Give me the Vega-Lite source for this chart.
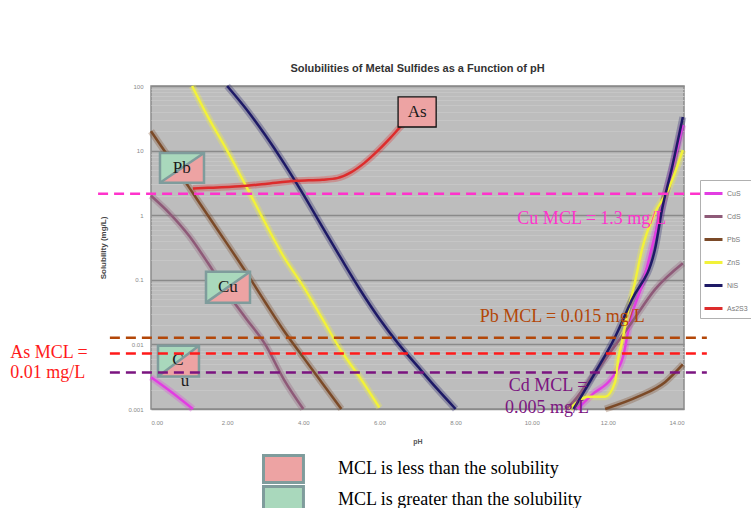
{
  "$schema": "https://vega.github.io/schema/vega-lite/v6.json",
  "width": 533,
  "height": 323,
  "autosize": {"type": "none"},
  "padding": {"left": 151, "top": 86, "right": 67, "bottom": 99},
  "background": "white",
  "config": {
    "view": {"fill": "#bdbdbd", "stroke": "#8a8a8a", "strokeWidth": 1.5},
    "font": "Liberation Sans"
  },
  "title": {
    "text": "Solubilities of Metal Sulfides as a Function of pH",
    "fontSize": 11, "fontWeight": "bold", "color": "#333", "offset": -2,
    "anchor": "middle", "font": "Liberation Sans"
  },
  "datasets": {
    "curves": [
      {"compound": "CuS", "branch": "a", "pH": 0, "s": 0.0031},
      {"compound": "CuS", "branch": "a", "pH": 0.5, "s": 0.0019},
      {"compound": "CuS", "branch": "a", "pH": 1.1, "s": 0.001},
      {"compound": "CuS", "branch": "b", "pH": 11.2, "s": 0.001},
      {"compound": "CuS", "branch": "b", "pH": 11.6, "s": 0.0017},
      {"compound": "CuS", "branch": "b", "pH": 12.1, "s": 0.003},
      {"compound": "CuS", "branch": "b", "pH": 12.4, "s": 0.0065},
      {"compound": "CuS", "branch": "b", "pH": 12.6, "s": 0.025},
      {"compound": "CuS", "branch": "b", "pH": 12.92, "s": 0.09},
      {"compound": "CuS", "branch": "b", "pH": 13.16, "s": 0.32},
      {"compound": "CuS", "branch": "b", "pH": 13.42, "s": 1.3},
      {"compound": "CuS", "branch": "b", "pH": 13.69, "s": 5.2},
      {"compound": "CuS", "branch": "b", "pH": 13.97, "s": 25},
      {"compound": "CdS", "branch": "a", "pH": 0, "s": 2.0},
      {"compound": "CdS", "branch": "a", "pH": 0.5, "s": 1.05},
      {"compound": "CdS", "branch": "a", "pH": 1.0, "s": 0.48},
      {"compound": "CdS", "branch": "a", "pH": 1.5, "s": 0.18},
      {"compound": "CdS", "branch": "a", "pH": 2.0, "s": 0.063},
      {"compound": "CdS", "branch": "a", "pH": 2.5, "s": 0.025},
      {"compound": "CdS", "branch": "a", "pH": 3.0, "s": 0.01},
      {"compound": "CdS", "branch": "a", "pH": 3.5, "s": 0.0028},
      {"compound": "CdS", "branch": "a", "pH": 4.0, "s": 0.001},
      {"compound": "CdS", "branch": "b", "pH": 10.9, "s": 0.001},
      {"compound": "CdS", "branch": "b", "pH": 11.14, "s": 0.0014},
      {"compound": "CdS", "branch": "b", "pH": 11.48, "s": 0.0026},
      {"compound": "CdS", "branch": "b", "pH": 11.93, "s": 0.0059},
      {"compound": "CdS", "branch": "b", "pH": 12.63, "s": 0.022},
      {"compound": "CdS", "branch": "b", "pH": 13.24, "s": 0.071},
      {"compound": "CdS", "branch": "b", "pH": 13.97, "s": 0.18},
      {"compound": "PbS", "branch": "a", "pH": 0, "s": 20},
      {"compound": "PbS", "branch": "a", "pH": 0.5, "s": 7.4},
      {"compound": "PbS", "branch": "a", "pH": 1.0, "s": 2.7},
      {"compound": "PbS", "branch": "a", "pH": 1.5, "s": 0.98},
      {"compound": "PbS", "branch": "a", "pH": 2.0, "s": 0.36},
      {"compound": "PbS", "branch": "a", "pH": 2.5, "s": 0.13},
      {"compound": "PbS", "branch": "a", "pH": 3.0, "s": 0.045},
      {"compound": "PbS", "branch": "a", "pH": 3.5, "s": 0.016},
      {"compound": "PbS", "branch": "a", "pH": 4.0, "s": 0.0063},
      {"compound": "PbS", "branch": "a", "pH": 4.5, "s": 0.0025},
      {"compound": "PbS", "branch": "a", "pH": 5.0, "s": 0.001},
      {"compound": "PbS", "branch": "b", "pH": 11.93, "s": 0.001},
      {"compound": "PbS", "branch": "b", "pH": 12.79, "s": 0.00155},
      {"compound": "PbS", "branch": "b", "pH": 13.5, "s": 0.0026},
      {"compound": "PbS", "branch": "b", "pH": 13.97, "s": 0.0049},
      {"compound": "ZnS", "branch": "a", "pH": 1.08, "s": 100},
      {"compound": "ZnS", "branch": "a", "pH": 1.5, "s": 33},
      {"compound": "ZnS", "branch": "a", "pH": 2.0, "s": 10},
      {"compound": "ZnS", "branch": "a", "pH": 2.5, "s": 2.8},
      {"compound": "ZnS", "branch": "a", "pH": 3.0, "s": 0.76},
      {"compound": "ZnS", "branch": "a", "pH": 3.5, "s": 0.22},
      {"compound": "ZnS", "branch": "a", "pH": 4.0, "s": 0.079},
      {"compound": "ZnS", "branch": "a", "pH": 4.5, "s": 0.025},
      {"compound": "ZnS", "branch": "a", "pH": 5.0, "s": 0.0079},
      {"compound": "ZnS", "branch": "a", "pH": 5.5, "s": 0.003},
      {"compound": "ZnS", "branch": "a", "pH": 6.0, "s": 0.00105},
      {"compound": "ZnS", "branch": "b", "pH": 11.0, "s": 0.001},
      {"compound": "ZnS", "branch": "b", "pH": 11.48, "s": 0.00155},
      {"compound": "ZnS", "branch": "b", "pH": 11.93, "s": 0.00155},
      {"compound": "ZnS", "branch": "b", "pH": 12.19, "s": 0.0026},
      {"compound": "ZnS", "branch": "b", "pH": 12.27, "s": 0.0059},
      {"compound": "ZnS", "branch": "b", "pH": 12.37, "s": 0.0107},
      {"compound": "ZnS", "branch": "b", "pH": 12.5, "s": 0.027},
      {"compound": "ZnS", "branch": "b", "pH": 12.71, "s": 0.091},
      {"compound": "ZnS", "branch": "b", "pH": 12.9, "s": 0.3},
      {"compound": "ZnS", "branch": "b", "pH": 13.24, "s": 1.1},
      {"compound": "ZnS", "branch": "b", "pH": 13.58, "s": 2.45},
      {"compound": "ZnS", "branch": "b", "pH": 13.97, "s": 10.2},
      {"compound": "NiS", "branch": "a", "pH": 2.0, "s": 100},
      {"compound": "NiS", "branch": "a", "pH": 2.5, "s": 44},
      {"compound": "NiS", "branch": "a", "pH": 3.0, "s": 17.4},
      {"compound": "NiS", "branch": "a", "pH": 3.5, "s": 6.3},
      {"compound": "NiS", "branch": "a", "pH": 4.0, "s": 2.1},
      {"compound": "NiS", "branch": "a", "pH": 4.5, "s": 0.66},
      {"compound": "NiS", "branch": "a", "pH": 5.0, "s": 0.21},
      {"compound": "NiS", "branch": "a", "pH": 5.5, "s": 0.069},
      {"compound": "NiS", "branch": "a", "pH": 6.0, "s": 0.025},
      {"compound": "NiS", "branch": "a", "pH": 6.5, "s": 0.0102},
      {"compound": "NiS", "branch": "a", "pH": 7.0, "s": 0.0046},
      {"compound": "NiS", "branch": "a", "pH": 7.5, "s": 0.0021},
      {"compound": "NiS", "branch": "a", "pH": 8.0, "s": 0.001},
      {"compound": "NiS", "branch": "b", "pH": 11.1, "s": 0.001},
      {"compound": "NiS", "branch": "b", "pH": 11.66, "s": 0.0036},
      {"compound": "NiS", "branch": "b", "pH": 12.19, "s": 0.013},
      {"compound": "NiS", "branch": "b", "pH": 12.63, "s": 0.049},
      {"compound": "NiS", "branch": "b", "pH": 13.24, "s": 0.3},
      {"compound": "NiS", "branch": "b", "pH": 13.42, "s": 1.2},
      {"compound": "NiS", "branch": "b", "pH": 13.69, "s": 5.6},
      {"compound": "NiS", "branch": "b", "pH": 13.97, "s": 33},
      {"compound": "As2S3", "branch": "a", "pH": 1.1, "s": 2.6},
      {"compound": "As2S3", "branch": "a", "pH": 1.5, "s": 2.65},
      {"compound": "As2S3", "branch": "a", "pH": 2.34, "s": 2.8},
      {"compound": "As2S3", "branch": "a", "pH": 3.0, "s": 3.05},
      {"compound": "As2S3", "branch": "a", "pH": 3.83, "s": 3.4},
      {"compound": "As2S3", "branch": "a", "pH": 4.5, "s": 3.55},
      {"compound": "As2S3", "branch": "a", "pH": 4.89, "s": 3.75},
      {"compound": "As2S3", "branch": "a", "pH": 5.25, "s": 4.6},
      {"compound": "As2S3", "branch": "a", "pH": 5.6, "s": 6.4},
      {"compound": "As2S3", "branch": "a", "pH": 6.0, "s": 10.5},
      {"compound": "As2S3", "branch": "a", "pH": 6.3, "s": 16},
      {"compound": "As2S3", "branch": "a", "pH": 6.6, "s": 25},
      {"compound": "As2S3", "branch": "a", "pH": 6.88, "s": 35}
    ],
    "mcl": [
      {"metal": "Cu", "pH": -1.39, "pH2": 14.76, "s": 2.14},
      {"metal": "Pb", "pH": -1.08, "pH2": 14.6, "s": 0.0127},
      {"metal": "As", "pH": -1.08, "pH2": 14.6, "s": 0.0072},
      {"metal": "Cd", "pH": -1.08, "pH2": 14.6, "s": 0.00366}
    ],
    "notes": [
      {"metal": "Cu", "pH": 11.58, "s": 0.879, "t": "Cu MCL = 1.3 mg/L"},
      {"metal": "Pb", "pH": 10.8, "s": 0.0269, "t": "Pb MCL = 0.015 mg/L"},
      {"metal": "Cd", "pH": 10.43, "s": 0.00223, "t": "Cd MCL ="},
      {"metal": "Cd", "pH": 10.4, "s": 0.00105, "t": "0.005 mg/L"},
      {"metal": "As", "pH": -3.7, "s": 0.00746, "t": "As MCL ="},
      {"metal": "As", "pH": -3.7, "s": 0.00366, "t": "0.01 mg/L"}
    ],
    "boxes": [
      {"box": "As", "split": false, "status": "MCL is less than the solubility", "pH": 6.49, "pH2": 7.49, "s": 67.8, "s2": 23.2},
      {"box": "Pb", "split": true, "status": "MCL is less than the solubility", "pH": 0.236, "pH2": 1.392, "s": 9.2, "s2": 3.17},
      {"box": "Cu", "split": true, "status": "MCL is less than the solubility", "pH": 1.445, "pH2": 2.6, "s": 0.133, "s2": 0.0443},
      {"box": "Cu2", "split": true, "status": "MCL is less than the solubility", "pH": 0.184, "pH2": 1.26, "s": 0.00957, "s2": 0.00318}
    ],
    "tri": [
      {"box": "Pb", "pH": 0.236, "s": 9.2, "s2": 3.17},
      {"box": "Pb", "pH": 1.392, "s": 9.2, "s2": 9.2},
      {"box": "Cu", "pH": 1.445, "s": 0.133, "s2": 0.0443},
      {"box": "Cu", "pH": 2.6, "s": 0.133, "s2": 0.133},
      {"box": "Cu2", "pH": 0.184, "s": 0.00957, "s2": 0.00318},
      {"box": "Cu2", "pH": 1.26, "s": 0.00957, "s2": 0.00957}
    ],
    "boxtext": [
      {"t": "As", "pH": 6.99, "s": 39.6},
      {"t": "Pb", "pH": 0.81, "s": 5.4},
      {"t": "Cu", "pH": 2.02, "s": 0.078},
      {"t": "C", "pH": 0.71, "s": 0.0058},
      {"t": "u", "pH": 0.89, "s": 0.00275}
    ]
  },
  "layer": [
    {
      "data": {"name": "curves"},
      "mark": {"type": "line", "strokeWidth": 7, "opacity": 0.3, "interpolate": "monotone"},
      "encoding": {
        "x": {"field": "pH", "type": "quantitative", "title": "pH",
          "scale": {"domain": [0, 14], "nice": false, "zero": false},
          "axis": {"values": [0, 2, 4, 6, 8, 10, 12, 14], "format": ".2f", "grid": false, "ticks": false, "domain": false,
            "labelFontSize": 6, "labelColor": "#888", "labelPadding": 10, "title": "pH", "titleFontSize": 7,
            "titleFontWeight": "bold", "titleColor": "#555", "titlePadding": 12}},
        "y": {"field": "s", "type": "quantitative", "title": "Solubility (mg/L)",
          "scale": {"type": "log", "domain": [0.001, 100], "nice": false},
          "axis": {
            "values": [0.001, 0.002, 0.003, 0.004, 0.005, 0.006, 0.007, 0.008, 0.009, 0.01, 0.02, 0.03, 0.04, 0.05, 0.06, 0.07, 0.08, 0.09, 0.1, 0.2, 0.3, 0.4, 0.5, 0.6, 0.7, 0.8, 0.9, 1, 2, 3, 4, 5, 6, 7, 8, 9, 10, 20, 30, 40, 50, 60, 70, 80, 90, 100],
            "labelExpr": "abs(log(datum.value)/LN10 - round(log(datum.value)/LN10)) < 0.01 ? '' + datum.value : ''",
            "labelOverlap": false, "grid": true,
            "gridColor": {"condition": {"test": "abs(log(datum.value)/LN10 - round(log(datum.value)/LN10)) < 0.01", "value": "#8a8a8a"}, "value": "#c6c6c6"},
            "gridWidth": {"condition": {"test": "abs(log(datum.value)/LN10 - round(log(datum.value)/LN10)) < 0.01", "value": 1.5}, "value": 1},
            "ticks": false, "domain": false, "labelFontSize": 6, "labelColor": "#888", "labelPadding": 8,
            "title": "Solubility (mg/L)", "titleFontSize": 8, "titleFontWeight": "bold", "titleColor": "#444", "titlePadding": 20}},
        "color": {"field": "compound", "type": "nominal",
          "scale": {"domain": ["CuS", "CdS", "PbS", "ZnS", "NiS", "As2S3"], "range": ["#e23de2", "#8e5a78", "#7b4a28", "#f2f23a", "#1e1a66", "#dd2c2c"]},
          "legend": {"orient": "none", "legendX": 549, "legendY": 94, "title": null, "symbolType": "stroke",
            "symbolSize": 324, "symbolStrokeWidth": 3, "labelFontSize": 7, "labelColor": "#777", "labelFont": "Liberation Sans",
            "rowPadding": 6, "padding": 3, "strokeColor": "#b0b0b0", "fillColor": "white", "labelOffset": 3, "symbolOpacity": 1}},
        "detail": {"field": "branch"}
      }
    },
    {
      "data": {"name": "curves"},
      "mark": {"type": "line", "strokeWidth": 2.5, "interpolate": "monotone"},
      "encoding": {
        "x": {"field": "pH", "type": "quantitative", "title": "pH"},
        "y": {"field": "s", "type": "quantitative", "title": "Solubility (mg/L)"},
        "color": {"field": "compound", "type": "nominal",
          "legend": {"orient": "none", "legendX": 549, "legendY": 94, "title": null, "symbolType": "stroke",
            "symbolSize": 324, "symbolStrokeWidth": 3, "labelFontSize": 7, "labelColor": "#777", "labelFont": "Liberation Sans",
            "rowPadding": 6, "padding": 3, "strokeColor": "#b0b0b0", "fillColor": "white", "labelOffset": 3, "symbolOpacity": 1}},
        "detail": {"field": "branch"}
      }
    },
    {
      "data": {"name": "boxes"},
      "mark": {"type": "rect"},
      "encoding": {
        "x": {"field": "pH", "type": "quantitative", "title": "pH"},
        "x2": {"field": "pH2"},
        "y": {"field": "s", "type": "quantitative", "title": "Solubility (mg/L)"},
        "y2": {"field": "s2"},
        "fill": {"field": "status", "type": "nominal",
          "scale": {"domain": ["MCL is less than the solubility", "MCL is greater than the solubility"], "range": ["#eda3a3", "#a9d8bc"]},
          "legend": {"orient": "none", "legendX": 111, "legendY": 368, "title": null,
            "symbolType": "M-1,-1L1.96,-1L1.96,1L-1,1Z", "symbolSize": 729, "clipHeight": 30,
            "symbolStrokeColor": "#7f9c9c", "symbolStrokeWidth": 3, "labelFont": "Liberation Serif", "labelFontSize": 18,
            "labelColor": "black", "labelLimit": 400, "labelOffset": 46, "rowPadding": 1, "padding": 0, "symbolOpacity": 1}}
      }
    },
    {
      "data": {"name": "tri"},
      "mark": {"type": "area"},
      "encoding": {
        "x": {"field": "pH", "type": "quantitative", "title": "pH"},
        "y": {"field": "s", "type": "quantitative", "title": "Solubility (mg/L)"},
        "y2": {"field": "s2"},
        "detail": {"field": "box"},
        "fill": {"datum": "MCL is greater than the solubility"}
      }
    },
    {
      "data": {"name": "boxes"},
      "transform": [{"filter": "datum.split"}],
      "mark": {"type": "rule", "stroke": "#7f9c9c", "strokeWidth": 2.5},
      "encoding": {
        "x": {"field": "pH", "type": "quantitative", "title": "pH"},
        "x2": {"field": "pH2"},
        "y": {"field": "s2", "type": "quantitative", "title": "Solubility (mg/L)"},
        "y2": {"field": "s"}
      }
    },
    {
      "data": {"name": "boxes"},
      "transform": [{"filter": "datum.split"}],
      "mark": {"type": "rect", "fillOpacity": 0, "stroke": "#7f9c9c", "strokeWidth": 2.5},
      "encoding": {
        "x": {"field": "pH", "type": "quantitative", "title": "pH"},
        "x2": {"field": "pH2"},
        "y": {"field": "s", "type": "quantitative", "title": "Solubility (mg/L)"},
        "y2": {"field": "s2"}
      }
    },
    {
      "data": {"name": "boxes"},
      "transform": [{"filter": "!datum.split"}],
      "mark": {"type": "rect", "fillOpacity": 0, "stroke": "#111", "strokeWidth": 1.3},
      "encoding": {
        "x": {"field": "pH", "type": "quantitative", "title": "pH"},
        "x2": {"field": "pH2"},
        "y": {"field": "s", "type": "quantitative", "title": "Solubility (mg/L)"},
        "y2": {"field": "s2"}
      }
    },
    {
      "data": {"name": "boxtext"},
      "mark": {"type": "text", "font": "Liberation Serif", "fontSize": 17, "color": "#1a1a1a", "baseline": "middle", "align": "center"},
      "encoding": {
        "x": {"field": "pH", "type": "quantitative", "title": "pH"},
        "y": {"field": "s", "type": "quantitative", "title": "Solubility (mg/L)"},
        "text": {"field": "t"}
      }
    },
    {
      "data": {"name": "mcl"},
      "mark": {"type": "rule", "strokeWidth": 2.5, "strokeDash": [10, 6]},
      "encoding": {
        "x": {"field": "pH", "type": "quantitative", "title": "pH"},
        "x2": {"field": "pH2"},
        "y": {"field": "s", "type": "quantitative", "title": "Solubility (mg/L)"},
        "stroke": {"field": "metal", "type": "nominal",
          "scale": {"domain": ["Cu", "Pb", "As", "Cd"], "range": ["#ff33cc", "#b34708", "#ff1a1a", "#7b1480"]},
          "legend": null}
      }
    },
    {
      "data": {"name": "notes"},
      "transform": [{"filter": "datum.metal == 'Cu'"}],
      "mark": {"type": "text", "font": "Liberation Serif", "fontSize": 18, "color": "#ff33cc", "baseline": "middle", "align": "center"},
      "encoding": {
        "x": {"field": "pH", "type": "quantitative", "title": "pH"},
        "y": {"field": "s", "type": "quantitative", "title": "Solubility (mg/L)"},
        "text": {"field": "t"}
      }
    },
    {
      "data": {"name": "notes"},
      "transform": [{"filter": "datum.metal == 'Pb'"}],
      "mark": {"type": "text", "font": "Liberation Serif", "fontSize": 18, "color": "#b34708", "baseline": "middle", "align": "center"},
      "encoding": {
        "x": {"field": "pH", "type": "quantitative", "title": "pH"},
        "y": {"field": "s", "type": "quantitative", "title": "Solubility (mg/L)"},
        "text": {"field": "t"}
      }
    },
    {
      "data": {"name": "notes"},
      "transform": [{"filter": "datum.metal == 'Cd'"}],
      "mark": {"type": "text", "font": "Liberation Serif", "fontSize": 18, "color": "#7b1480", "baseline": "middle", "align": "center"},
      "encoding": {
        "x": {"field": "pH", "type": "quantitative", "title": "pH"},
        "y": {"field": "s", "type": "quantitative", "title": "Solubility (mg/L)"},
        "text": {"field": "t"}
      }
    },
    {
      "data": {"name": "notes"},
      "transform": [{"filter": "datum.metal == 'As'"}],
      "mark": {"type": "text", "font": "Liberation Serif", "fontSize": 18, "color": "#ff1a1a", "baseline": "middle", "align": "left"},
      "encoding": {
        "x": {"field": "pH", "type": "quantitative", "title": "pH"},
        "y": {"field": "s", "type": "quantitative", "title": "Solubility (mg/L)"},
        "text": {"field": "t"}
      }
    }
  ]
}
